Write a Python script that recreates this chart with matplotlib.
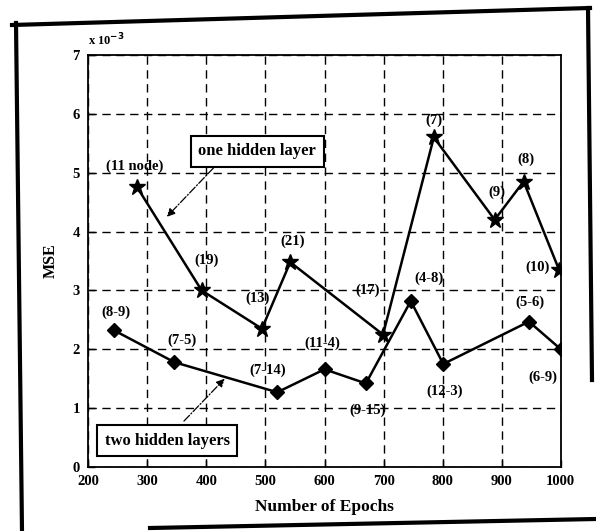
import matplotlib
matplotlib.use("Agg")
import matplotlib.pyplot as plt
from matplotlib.lines import Line2D

# ---- data (MSE in units of 1e-3) ----
one_epochs = [283, 392, 494, 542, 699, 785, 888, 937, 997]
one_mse = [4.75, 3.0, 2.35, 3.48, 2.25, 5.6, 4.2, 4.85, 3.35]
one_labels = ["(11 node)", "(19)", "(13)", "(21)", "(17)", "(7)", "(9)", "(8)", "(10)"]

two_epochs = [244, 346, 520, 600, 670, 746, 801, 946, 1000]
two_mse = [2.32, 1.78, 1.27, 1.66, 1.42, 2.82, 1.75, 2.47, 2.0]
two_labels = ["(8-9)", "(7-5)", "(7-14)", "(11-4)", "(9-15)", "(4-8)", "(12-3)", "(5-6)", "(6-9)"]

x_ticks = [200, 300, 400, 500, 600, 700, 800, 900, 1000]
y_ticks = [0, 1, 2, 3, 4, 5, 6, 7]

# label offsets in pixels (dx, dy)
one_offsets = [(-3, 21), (5, 30), (-4, 30), (2, 21), (-15, 44), (0, 17), (2, 28), (2, 22), (-22, 3)]
two_offsets = [(2, 18), (8, 22), (-10, 22), (-2, 26), (2, -27), (18, 23), (1, -27), (1, 19), (-18, -28)]

plt.rcParams["font.family"] = ["Liberation Serif", "DejaVu Serif"]
plt.rcParams["font.weight"] = "bold"

fig = plt.figure(figsize=(5.96, 5.31), dpi=100)
ax = fig.add_axes([0.148, 0.1205, 0.793, 0.776])

ax.plot(one_epochs, one_mse, color="black", lw=1.8, marker="*", ms=12,
        markerfacecolor="black", markeredgecolor="black", zorder=3)
ax.plot(two_epochs, two_mse, color="black", lw=1.8, marker="D", ms=7,
        markerfacecolor="black", markeredgecolor="black", zorder=3)

for x, y, s, (dx, dy) in zip(one_epochs, one_mse, one_labels, one_offsets):
    ax.annotate(s, (x, y), xytext=(dx, dy), textcoords="offset pixels",
                ha="center", va="center", fontsize=10.5, fontweight="bold")
for x, y, s, (dx, dy) in zip(two_epochs, two_mse, two_labels, two_offsets):
    ax.annotate(s, (x, y), xytext=(dx, dy), textcoords="offset pixels",
                ha="center", va="center", fontsize=10.5, fontweight="bold")

# legend-like callouts
box = dict(boxstyle="square,pad=0.45", facecolor="white", edgecolor="black", lw=1.5)
arrow = dict(arrowstyle="-|>", color="black", lw=0.9, linestyle="-.",
             mutation_scale=12, shrinkA=0, shrinkB=0)
ax.text(486, 5.36, "one hidden layer", ha="center", va="center", fontsize=12,
        fontweight="bold", bbox=box, zorder=5)
ax.annotate("", xy=(333, 4.25), xytext=(412, 5.08), arrowprops=arrow, zorder=4)
ax.text(334, 0.45, "two hidden layers", ha="center", va="center", fontsize=12,
        fontweight="bold", bbox=box, zorder=5)
ax.annotate("", xy=(431, 1.5), xytext=(362, 0.78), arrowprops=arrow, zorder=4)

ax.set_xlim(200, 1000)
ax.set_ylim(0, 7)
ax.set_xticks(x_ticks)
ax.set_yticks(y_ticks)
ax.tick_params(direction="in", length=5, width=1, labelsize=10.5, pad=6)
for lab in ax.get_xticklabels() + ax.get_yticklabels():
    lab.set_fontweight("bold")
ax.grid(True, color="black", linestyle=(0, (6, 4)), lw=1.0)
for sp in ax.spines.values():
    sp.set_linewidth(1.3)

ax.set_xlabel("Number of Epochs", fontsize=12.5, fontweight="bold", labelpad=8)
ax.set_ylabel("MSE", fontsize=11.5, fontweight="bold", labelpad=10)
ax.text(0.0, 1.015, "x 10$^{-3}$", transform=ax.transAxes, fontsize=9,
        fontweight="bold", ha="left", va="bottom")

# page frame around the figure
W, H = 596.0, 531.0
def frame_line(x0, y0, x1, y1, lw=3):
    fig.add_artist(Line2D([x0 / W, x1 / W], [1 - y0 / H, 1 - y1 / H],
                          transform=fig.transFigure, color="black", lw=lw))
frame_line(16, 23, 22, 531)
frame_line(12, 25, 590, 8)
frame_line(588, 8, 592, 380)
frame_line(150, 528, 596, 519)

fig.savefig("out.png", dpi=100)
